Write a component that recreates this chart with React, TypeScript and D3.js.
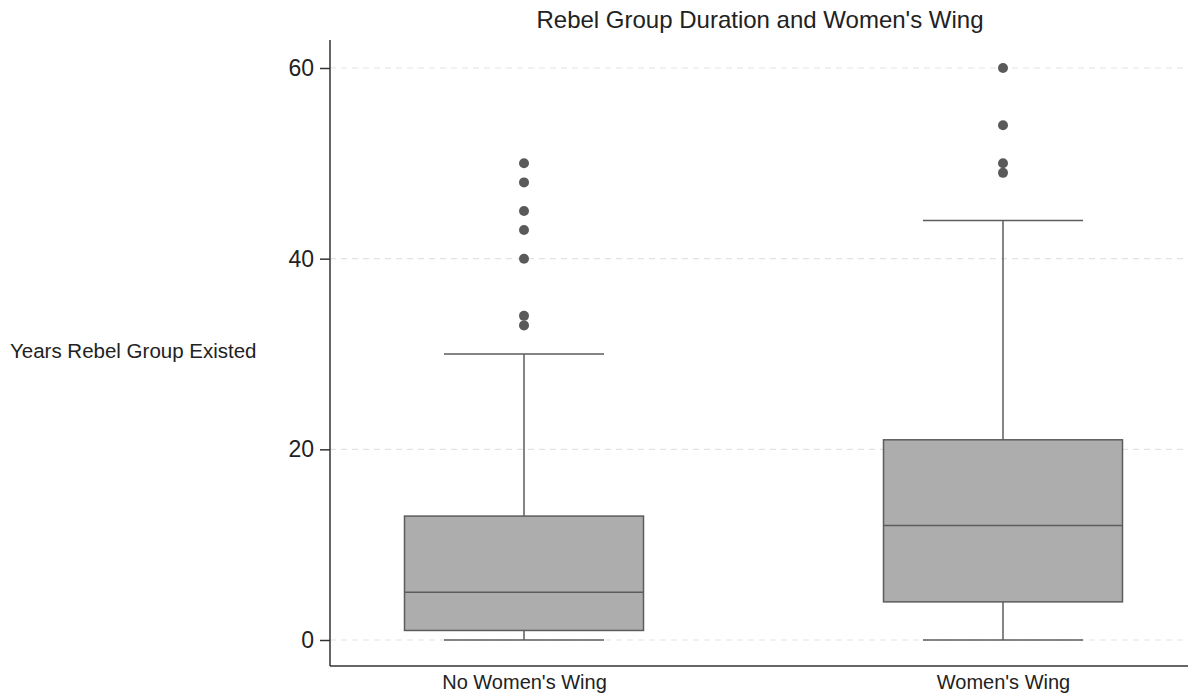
import React, { useRef, useEffect } from 'react';
import * as d3 from 'd3';

// Groups on the x axis
const categories = ["No Women's Wing", "Women's Wing"];

// Box statistics (years)
const lowerWhisker = [0, 0];
const q1Values = [1, 4];
const medianValues = [5, 12];
const q3Values = [13, 21];
const upperWhisker = [30, 44];

// Outliers per group
const outliersNoWing = [50, 48, 45, 43, 40, 34, 33];
const outliersWing = [60, 54, 50, 49];

const yTicks = [0, 20, 40, 60];

const App = () => {
    const svgRef = useRef<SVGSVGElement>(null);

    useEffect(() => {
        const width = 1188;
        const height = 700;
        const marginTop = 40;
        const marginLeft = 330;
        const marginBottom = 34;
        const font = 'Liberation Sans, Arial, Helvetica, sans-serif';

        const svg = d3.select(svgRef.current)
            .attr('width', width)
            .attr('height', height)
            .attr('viewBox', `0 0 ${width} ${height}`)
            .style('font-family', font);

        svg.selectAll('*').remove();

        const rows = categories.map((c, i) => ({
            cat: c,
            lo: lowerWhisker[i],
            q1: q1Values[i],
            med: medianValues[i],
            q3: q3Values[i],
            hi: upperWhisker[i],
            outliers: i === 0 ? outliersNoWing : outliersWing
        }));

        const x = d3.scalePoint()
            .domain(categories)
            .range([marginLeft + 194, width - 185]);

        const y = d3.scaleLinear()
            .domain([0, 60])
            .range([640, 68]);

        const boxHalf = 119.5;
        const capHalf = 80;
        const stroke = '#5c5c5c';

        // Dashed horizontal grid lines
        svg.append('g')
            .selectAll('line')
            .data(yTicks)
            .join('line')
            .attr('x1', marginLeft)
            .attr('x2', width)
            .attr('y1', d => y(d))
            .attr('y2', d => y(d))
            .attr('stroke', '#e3e3e3')
            .attr('stroke-width', 1.2)
            .attr('stroke-dasharray', '6,5');

        const groups = svg.append('g')
            .selectAll('g')
            .data(rows)
            .join('g')
            .attr('transform', d => `translate(${x(d.cat)},0)`);

        // whiskers
        groups.append('line')
            .attr('y1', d => y(d.q3))
            .attr('y2', d => y(d.hi))
            .attr('stroke', stroke)
            .attr('stroke-width', 1.5);
        groups.append('line')
            .attr('y1', d => y(d.q1))
            .attr('y2', d => y(d.lo))
            .attr('stroke', stroke)
            .attr('stroke-width', 1.5);

        // caps
        groups.selectAll('line.cap')
            .data(d => [d.lo, d.hi])
            .join('line')
            .attr('class', 'cap')
            .attr('x1', -capHalf)
            .attr('x2', capHalf)
            .attr('y1', d => y(d))
            .attr('y2', d => y(d))
            .attr('stroke', stroke)
            .attr('stroke-width', 1.5);

        // box
        groups.append('rect')
            .attr('x', -boxHalf)
            .attr('width', boxHalf * 2)
            .attr('y', d => y(d.q3))
            .attr('height', d => y(d.q1) - y(d.q3))
            .attr('fill', '#adadad')
            .attr('stroke', stroke)
            .attr('stroke-width', 1.5);

        // median
        groups.append('line')
            .attr('x1', -boxHalf)
            .attr('x2', boxHalf)
            .attr('y1', d => y(d.med))
            .attr('y2', d => y(d.med))
            .attr('stroke', stroke)
            .attr('stroke-width', 1.5);

        // outliers
        groups.selectAll('circle')
            .data(d => d.outliers)
            .join('circle')
            .attr('cx', 0)
            .attr('cy', d => y(d))
            .attr('r', 5)
            .attr('fill', '#5a5a5a');

        // y axis
        svg.append('g')
            .attr('transform', `translate(${marginLeft},0)`)
            .call(d3.axisLeft(y).tickValues(yTicks).tickSize(10).tickPadding(6).tickSizeOuter(0))
            .call(g => g.select('.domain').attr('d', `M0,${marginTop}V${height - marginBottom}`)
                .attr('stroke', '#333').attr('stroke-width', 1.5))
            .call(g => g.selectAll('.tick line').attr('stroke', '#333').attr('stroke-width', 1.5))
            .call(g => g.selectAll('.tick text')
                .attr('font-family', font)
                .attr('font-size', 23)
                .attr('fill', '#222'));

        // x axis
        svg.append('g')
            .attr('transform', `translate(0,${height - marginBottom})`)
            .call(d3.axisBottom(x).tickSize(0).tickPadding(9))
            .call(g => g.select('.domain').attr('d', `M${marginLeft},0H${width}`)
                .attr('stroke', '#333').attr('stroke-width', 1.5))
            .call(g => g.selectAll('.tick text')
                .attr('font-family', font)
                .attr('font-size', 20)
                .attr('fill', '#222'));

        // y label
        svg.append('text')
            .attr('x', 10)
            .attr('y', 358)
            .attr('font-size', 20.5)
            .attr('fill', '#222')
            .text('Years Rebel Group Existed');

        // title
        svg.append('text')
            .attr('x', 760)
            .attr('y', 28)
            .attr('text-anchor', 'middle')
            .attr('font-size', 24)
            .attr('fill', '#222')
            .text("Rebel Group Duration and Women's Wing");
    }, []);

    return (
        <div style={{ position: 'absolute', left: 0, top: 0 }}>
            <svg ref={svgRef}></svg>
        </div>
    );
};

export default App;
